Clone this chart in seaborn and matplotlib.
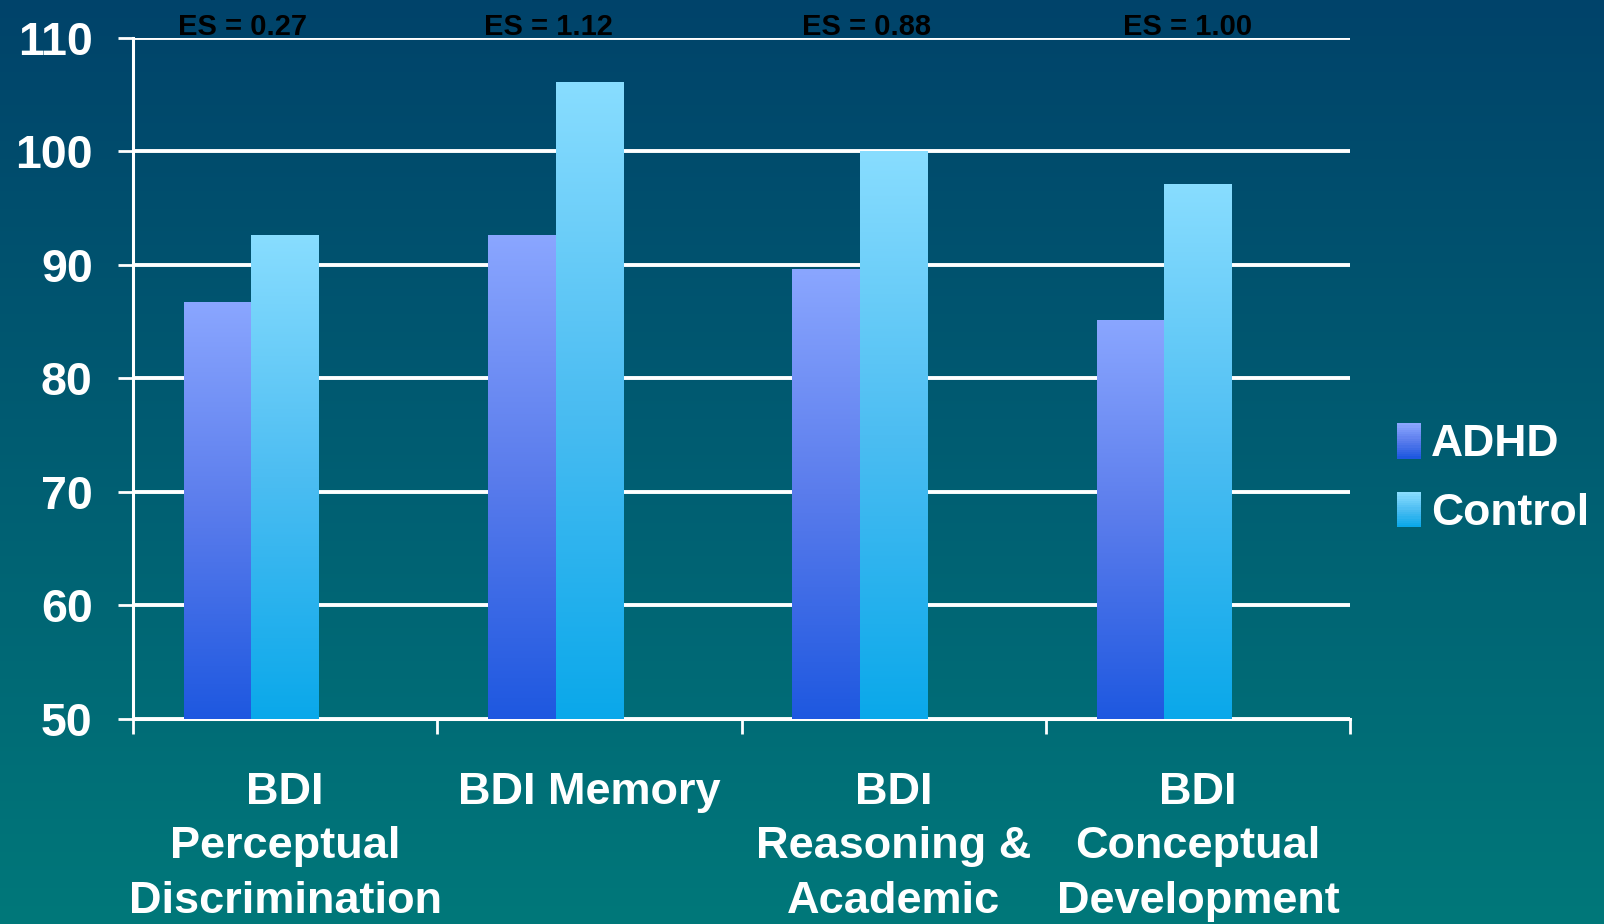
import numpy as np
import pandas as pd
import matplotlib
matplotlib.use("Agg")
import matplotlib.pyplot as plt
import seaborn as sns
from matplotlib.colors import LinearSegmentedColormap
from matplotlib.patches import Rectangle
from matplotlib.legend_handler import HandlerBase

# ---------------- data ----------------
categories = ["BDI\nPerceptual\nDiscrimination", "BDI Memory",
              "BDI\nReasoning &\nAcademic", "BDI\nConceptual\nDevelopment"]
adhd = [86.7, 92.6, 89.6, 85.1]
control = [92.6, 106.1, 100.0, 97.1]
es_labels = ["ES = 0.27", "ES = 1.12", "ES = 0.88", "ES = 1.00"]
series = ["ADHD", "Control"]
yticks = [50, 60, 70, 80, 90, 100, 110]

# ---------------- layout / style ----------------
es_offsets = [-0.14, -0.135, -0.09, -0.035]
grad_colors = {
    "ADHD": ["#1E58E0", "#5A7CEC", "#8AA6FF"],
    "Control": ["#0AA8EA", "#4CBDF2", "#88DDFF"],
}
bg_top, bg_bottom = "#00436A", "#00787A"

sns.set_theme(style="white")
plt.rcParams["font.family"] = ["Liberation Sans", "DejaVu Sans"]
plt.rcParams["font.weight"] = "bold"

df = pd.DataFrame({
    "category": categories * 2,
    "group": ["ADHD"] * len(categories) + ["Control"] * len(categories),
    "score": adhd + control,
})

fig = plt.figure(figsize=(16.04, 9.24), dpi=100)

# background gradient
bg = fig.add_axes([0, 0, 1, 1], zorder=-10)
bg_cmap = LinearSegmentedColormap.from_list("bg", [bg_bottom, bg_top])
bg.imshow(np.linspace(0, 1, 256)[:, None], aspect="auto", cmap=bg_cmap,
          origin="lower", extent=[0, 1, 0, 1])
bg.set_axis_off()

ax = fig.add_axes([0.0829, 0.222, 0.7588, 0.737])
ax.set_facecolor("none")

hue_order = series + [" "]  # empty third slot keeps the original spacing
sns.barplot(data=df, x="category", y="score", hue="group", hue_order=hue_order,
            order=categories, width=2 / 3, gap=0, legend=False, ax=ax,
            palette={"ADHD": "#8AA6FF", "Control": "#88DDFF", " ": "none"},
            zorder=3)

# gradient fill on bars
for name, container in zip(series, ax.containers):
    cmap = LinearSegmentedColormap.from_list(name, grad_colors[name])
    for patch in container.patches:
        x0 = patch.get_x()
        w = patch.get_width()
        top = patch.get_y() + patch.get_height()
        im = ax.imshow(np.linspace(0, 1, 256)[:, None], aspect="auto", cmap=cmap,
                       origin="lower", extent=[x0, x0 + w, 50, top], zorder=3.5,
                       interpolation="bilinear")
        im.set_clip_path(patch)
        patch.set_facecolor("none")
        patch.set_edgecolor("none")
ax.set_xlim(-0.5, len(categories) - 0.5)
ax.set_ylim(50, 110)

# grid / axes
ax.set_yticks(yticks)
ax.set_yticklabels([str(v) for v in yticks])
ax.yaxis.grid(True, color="white", linewidth=2.8, zorder=1)
ax.set_axisbelow(True)
ax.tick_params(axis="y", colors="white", labelcolor="white", labelsize=33.5,
               length=11, width=2, pad=18, left=True)
ax.set_xticks(range(len(categories)))
ax.set_xticklabels(categories)
ax.set_xticks(np.arange(-0.5, len(categories)), minor=True)
ax.tick_params(axis="x", which="major", length=0, labelsize=32.5,
               labelcolor="white", pad=38)
ax.tick_params(axis="x", which="minor", length=11, width=2, color="white",
               bottom=True)
for lab in ax.get_xticklabels() + ax.get_yticklabels():
    lab.set_fontweight("bold")
for lab in ax.get_xticklabels():
    lab.set_linespacing(1.42)
ax.set_xlabel("")
ax.set_ylabel("")
for s in ["top", "right"]:
    ax.spines[s].set_visible(False)
for s in ["left", "bottom"]:
    ax.spines[s].set_color("white")
    ax.spines[s].set_linewidth(2.2)

# effect size labels
for i, (lab, off) in enumerate(zip(es_labels, es_offsets)):
    ax.text(i + off, 110.25, lab, ha="center", va="baseline", fontsize=21,
            fontweight="bold", color="black", clip_on=False)


# legend with gradient swatches
class GradHandler(HandlerBase):
    def __init__(self, colors):
        super().__init__()
        self.cmap = LinearSegmentedColormap.from_list("h", colors)

    def create_artists(self, legend, orig_handle, xdescent, ydescent,
                       width, height, fontsize, trans):
        n = 16
        arts = []
        for k in range(n):
            r = Rectangle((-xdescent, -ydescent + height * k / n), width,
                          height / n + 0.3, facecolor=self.cmap(k / (n - 1)),
                          edgecolor="none", transform=trans)
            arts.append(r)
        return arts


handles = [Rectangle((0, 0), 1, 1) for _ in series]
leg = fig.legend(handles, series, loc="center left",
                 bbox_to_anchor=(0.846, 0.482), frameon=False,
                 handler_map={h: GradHandler(grad_colors[n]) for h, n in zip(handles, series)},
                 prop={"size": 32, "weight": "bold"}, labelcolor="white",
                 handlelength=0.55, handleheight=0.85, handletextpad=0.22,
                 labelspacing=0.6)

fig.savefig("out.png", dpi=100)
